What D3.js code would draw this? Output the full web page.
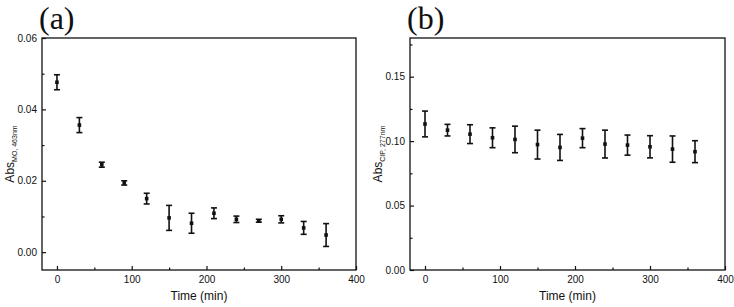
<!DOCTYPE html>
<html>
<head>
<meta charset="utf-8">
<script src="https://cdn.jsdelivr.net/npm/d3@7"></script>
<style>
  body { margin: 0; background: #fff; }
  svg { display: block; }
  .tick text { font-family: "Liberation Sans", Arial, sans-serif; font-size: 10px; fill: #111; }
</style>
</head>
<body>
<svg id="chart" width="734" height="307"></svg>
<script>
// ---------------- data ----------------
const times = [0, 30, 60, 90, 120, 150, 180, 210, 240, 270, 300, 330, 360];

const absMO = [0.0476, 0.0356, 0.0245, 0.0194, 0.0150, 0.0096, 0.0081, 0.0109, 0.0092, 0.0088, 0.0092, 0.0068, 0.0048];
const errMO = [0.0021, 0.0021, 0.0007, 0.0006, 0.0015, 0.0035, 0.0028, 0.0015, 0.0009, 0.0004, 0.0010, 0.0018, 0.0032];

const absCIP = [0.1133, 0.1085, 0.1054, 0.1026, 0.1013, 0.0973, 0.0951, 0.1023, 0.0977, 0.0969, 0.0956, 0.0938, 0.0918];
const errCIP = [0.0100, 0.0045, 0.0073, 0.0077, 0.0103, 0.0112, 0.0101, 0.0074, 0.0108, 0.0078, 0.0086, 0.0102, 0.0085];

const xTicks = [0, 100, 200, 300, 400];
const xMinor = [50, 150, 250, 350];
const yTicksA = [0.00, 0.02, 0.04, 0.06];
const yMinorA = [0.01, 0.03, 0.05];
const yTicksB = [0.00, 0.05, 0.10, 0.15];
const yMinorB = [0.025, 0.075, 0.125, 0.175];

const svg = d3.select("#chart");
const ink = "#111";

function panel(opts) {
    const { left, top, width, height, yDomain, yTicks, yMinor, xs, ys, errs, tag, sub } = opts;

    const x = d3.scaleLinear().domain([-20, 400]).range([0, width]);
    const y = d3.scaleLinear().domain(yDomain).range([height, 0]);

    const g = svg.append("g").attr("transform", `translate(${left},${top})`);

    // frame
    g.append("rect")
        .attr("width", width)
        .attr("height", height)
        .attr("fill", "none")
        .attr("stroke", ink)
        .attr("stroke-width", 1.3);

    // x axis (ticks inward)
    g.append("g")
        .attr("transform", `translate(0,${height})`)
        .call(d3.axisBottom(x).tickValues(xTicks).tickSize(-4).tickPadding(6).tickFormat(d3.format("d")));
    g.append("g")
        .attr("transform", `translate(0,${height})`)
        .call(d3.axisBottom(x).tickValues(xMinor).tickSize(-2.5).tickFormat(""));

    // y axis
    g.append("g")
        .call(d3.axisLeft(y).tickValues(yTicks).tickSize(-4).tickPadding(5).tickFormat(d3.format(".2f")));
    g.append("g")
        .call(d3.axisLeft(y).tickValues(yMinor).tickSize(-2.5).tickFormat(""));

    g.selectAll(".domain").remove();
    g.selectAll(".tick line").attr("stroke", ink).attr("stroke-width", 1.2);

    // axis titles
    g.append("text")
        .attr("x", width / 2)
        .attr("y", height + 30)
        .attr("text-anchor", "middle")
        .style("font-family", "Liberation Sans, Arial, sans-serif")
        .style("font-size", "12px")
        .style("fill", ink)
        .text("Time (min)");

    const yl = g.append("text")
        .attr("transform", `translate(-28,${height / 2}) rotate(-90)`)
        .attr("text-anchor", "middle")
        .style("font-family", "Liberation Sans, Arial, sans-serif")
        .style("font-size", "12px")
        .style("fill", ink);
    yl.append("tspan").text("Abs");
    yl.append("tspan")
        .attr("dy", 3)
        .style("font-size", "7px")
        .text(sub);

    // panel tag
    svg.append("text")
        .attr("x", left - 3)
        .attr("y", 29)
        .style("font-family", "Liberation Serif, Times New Roman, serif")
        .style("font-size", "32px")
        .style("fill", ink)
        .text(tag);

    // error bars
    const pts = xs.map((t, i) => ({ t, v: ys[i], e: errs[i] }));
    const cap = 3;
    const eb = g.append("g").attr("stroke", ink).attr("stroke-width", 1.6);
    pts.forEach(d => {
        const cx = x(d.t), y1 = y(d.v + d.e), y2 = y(d.v - d.e);
        eb.append("line").attr("x1", cx).attr("x2", cx).attr("y1", y1).attr("y2", y2);
        eb.append("line").attr("x1", cx - cap).attr("x2", cx + cap).attr("y1", y1).attr("y2", y1);
        eb.append("line").attr("x1", cx - cap).attr("x2", cx + cap).attr("y1", y2).attr("y2", y2);
    });

    // markers
    g.append("g")
        .selectAll("rect")
        .data(pts)
        .join("rect")
        .attr("x", d => x(d.t) - 1.8)
        .attr("y", d => y(d.v) - 1.8)
        .attr("width", 3.6)
        .attr("height", 3.6)
        .attr("fill", ink);
}

panel({
    left: 42, top: 38, width: 314, height: 232,
    yDomain: [-0.005, 0.06], yTicks: yTicksA, yMinor: yMinorA,
    xs: times, ys: absMO, errs: errMO, tag: "(a)", sub: "MO, 463nm"
});

panel({
    left: 410, top: 38, width: 315, height: 232,
    yDomain: [0, 0.18], yTicks: yTicksB, yMinor: yMinorB,
    xs: times, ys: absCIP, errs: errCIP, tag: "(b)", sub: "CIP, 277nm"
});
</script>
</body>
</html>
